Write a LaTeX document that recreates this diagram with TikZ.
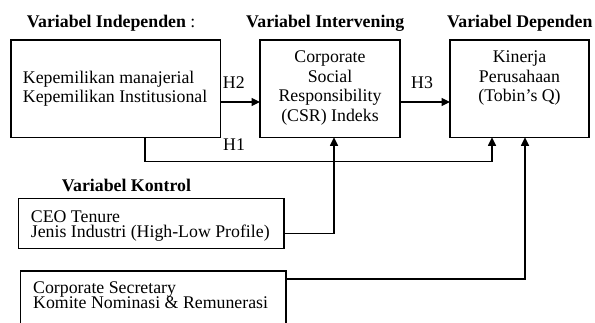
\documentclass[tikz,border=0pt]{standalone}
\usepackage{fontspec}
\setmainfont{Liberation Serif}
\usetikzlibrary{arrows.meta}
\begin{document}
\lineskiplimit=-100pt\relax
\begin{tikzpicture}[x=1pt,y=-1pt]
\tikzset{
  boxstyle/.style={draw, line width=1.1pt, inner sep=0pt, outer sep=0pt},
  txt/.style={inner sep=0pt, font={\fontsize{17.8}{19.5}\selectfont}},
  txtA/.style={inner sep=0pt, font={\fontsize{17.8}{19}\selectfont}},
  txtB/.style={inner sep=0pt, font={\fontsize{17.8}{14.6}\selectfont}},
  ttl/.style={inner sep=0pt, anchor=base west, font={\fontsize{17.8}{19.5}\selectfont\bfseries}},
  conn/.style={line width=1.1pt, -{Triangle[length=8.5pt,width=8pt]}},
}
\useasboundingbox (0,0) rectangle (595,322);
\clip (0,0) rectangle (595,322);
% boxes
\node[boxstyle, minimum width=209.7pt, minimum height=97.3pt] (indep) at (115.85,88.65) {};
\node[boxstyle, minimum width=140pt, minimum height=97.3pt] (csr) at (330,88.65) {};
\node[boxstyle, minimum width=139pt, minimum height=97.3pt] (kin) at (519.5,88.65) {};
\node[boxstyle, minimum width=265.7pt, minimum height=50pt] (ctrlA) at (151.15,223.3) {};
\node[boxstyle, minimum width=265.3pt, minimum height=69pt] (ctrlB) at (153.35,305.5) {};
% box texts
\node[txtA, align=left, anchor=north west] (indeptxt) at (22.7,70.5) {Kepemilikan manajerial\\Kepemilikan Institusional};
\node[txt, align=center, anchor=north] (csrtxt) at (330,50.6) {Corporate\\Social\\Responsibility\\(CSR) Indeks};
\node[txt, align=center, anchor=north] (kintxt) at (519.5,50.8) {Kinerja\\Perusahaan\\(Tobin's Q)};
\node[txtB, align=left, anchor=north west] (ctrlAtxt) at (30.7,210.5) {CEO Tenure\\Jenis Industri (High-Low Profile)};
\node[txtB, align=left, anchor=north west] (ctrlBtxt) at (33,282) {Corporate Secretary\\Komite Nominasi \& Remunerasi};
% titles
\node[ttl] (tIndep) at (26.7,27.3) {Variabel Independen \textmd{:}};
\node[ttl] (tInter) at (246,27.3) {Variabel Intervening};
\node[ttl] (tDep) at (447,27.3) {Variabel Dependen};
\node[ttl] (tKon) at (61.7,191.7) {Variabel Kontrol};
% hypothesis labels
\node[txt, anchor=base west] (lH2) at (222.7,88) {H2};
\node[txt, anchor=base west] (lH1) at (223,150) {H1};
\node[txt, anchor=base west] (lH3) at (411,88) {H3};
% connectors
\coordinate (rowarr) at (0,102);
\draw[conn] (indep.east |- rowarr) -- (csr.west |- rowarr);
\draw[conn] (csr.east |- rowarr) -- (kin.west |- rowarr);
\coordinate (hA) at (145,161.5);
\coordinate (hB) at (492,161.5);
\draw[conn] (indep.south -| hA) -- (hA) -- (hB) -- (kin.south -| hB);
\coordinate (kA) at (334,233.5);
\draw[conn] (ctrlA.east |- kA) -- (kA) -- (csr.south -| kA);
\coordinate (kB) at (525,279);
\draw[conn] (ctrlB.east |- kB) -- (kB) -- (kin.south -| kB);
\end{tikzpicture}
\end{document}
